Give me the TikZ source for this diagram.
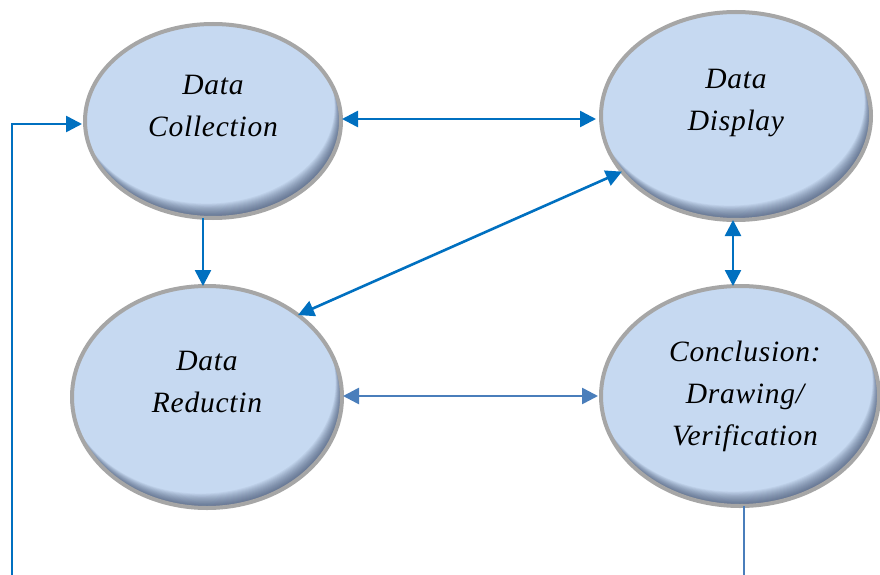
\documentclass[tikz,border=0pt]{standalone}
\usepackage{fontspec}
\setmainfont{Liberation Serif}
\usetikzlibrary{shapes.geometric,arrows.meta,calc}
\definecolor{fillc}{HTML}{C6D9F1}
\definecolor{bordc}{HTML}{A6A6A6}
\definecolor{shadowc}{HTML}{2E3D5C}
\definecolor{arrc}{HTML}{0070C0}
\definecolor{steelc}{HTML}{4A7EBB}
\tikzset{
  tip/.tip={Triangle[length=16pt,width=16pt]},
  blob/.style={ellipse, fill=fillc, inner sep=0pt, outer sep=0pt},
  txt/.style={font=\fontsize{29.5}{42}\selectfont\itshape\addfontfeatures{LetterSpace=2.5}, align=center, text=black},
  conn/.style={draw=arrc, line width=2.6pt, tip-tip},
  conn1/.style={draw=arrc, line width=2.6pt, -tip},
  sconn/.style={draw=steelc, line width=2.6pt, tip-tip},
}
\newcommand\ellnode[8]{%
  \node[blob, minimum width={2*#4-4}, minimum height={2*#5-4},
        label={[txt, yshift=#7pt, xshift=#8pt]center:#6}] (#1) at (#2,#3) {};
  \begin{scope}
    \clip (#1.center) ellipse [x radius=#4-2, y radius=#5-2];
    \foreach \k in {1,...,16} {
      \fill[shadowc, opacity=0.06, even odd rule]
        (#1.center) ellipse [x radius=#4-2, y radius=#5-2]
        ([shift={(-0.4*\k,-0.9*\k)}]#1.center) ellipse [x radius=#4-2, y radius=#5-2];
    }
  \end{scope}
  \draw[bordc, line width=4pt] (#1.center) ellipse [x radius=#4-2, y radius=#5-2];
}
\begin{document}
\begin{tikzpicture}[x=1pt,y=-1pt]
\useasboundingbox (0,0) rectangle (880,575);
\fill[white] (0,0) rectangle (880,575);
\ellnode{dc}{213}{121}{130}{99}{Data\\Collection}{15}{0}
\ellnode{dd}{736}{116}{137}{106}{Data\\Display}{13}{0}
\ellnode{dr}{207}{397}{137}{113}{Data\\Reductin}{15}{0}
\ellnode{dv}{740}{396}{141}{112}{Conclusion:\\Drawing/\\Verification}{0}{5}
% connectors
\draw[conn, shorten <=1pt, shorten >=5pt] (dc.east |- 0,119) -- (dd.west |- 0,119);
\draw[conn1] ([xshift=-10pt]dc.south) -- ([xshift=-10pt]dc.south |- dr.north);
\draw[conn] (dd.206) -- (dr.42);
\draw[conn] ([xshift=-3pt]dd.south) -- ([xshift=-3pt]dd.south |- dv.north);
\draw[sconn, shorten <=1pt, shorten >=3pt] (dr.east |- 0,396) -- (dv.west |- 0,396);
\coordinate (lb) at (12,576);
\draw[conn1, shorten >=3pt] (lb) |- (dc.west |- 0,124);
\coordinate (vb) at (744,576);
\draw[steelc, line width=2pt] (dv.south -| vb) -- (vb);
\end{tikzpicture}
\end{document}
